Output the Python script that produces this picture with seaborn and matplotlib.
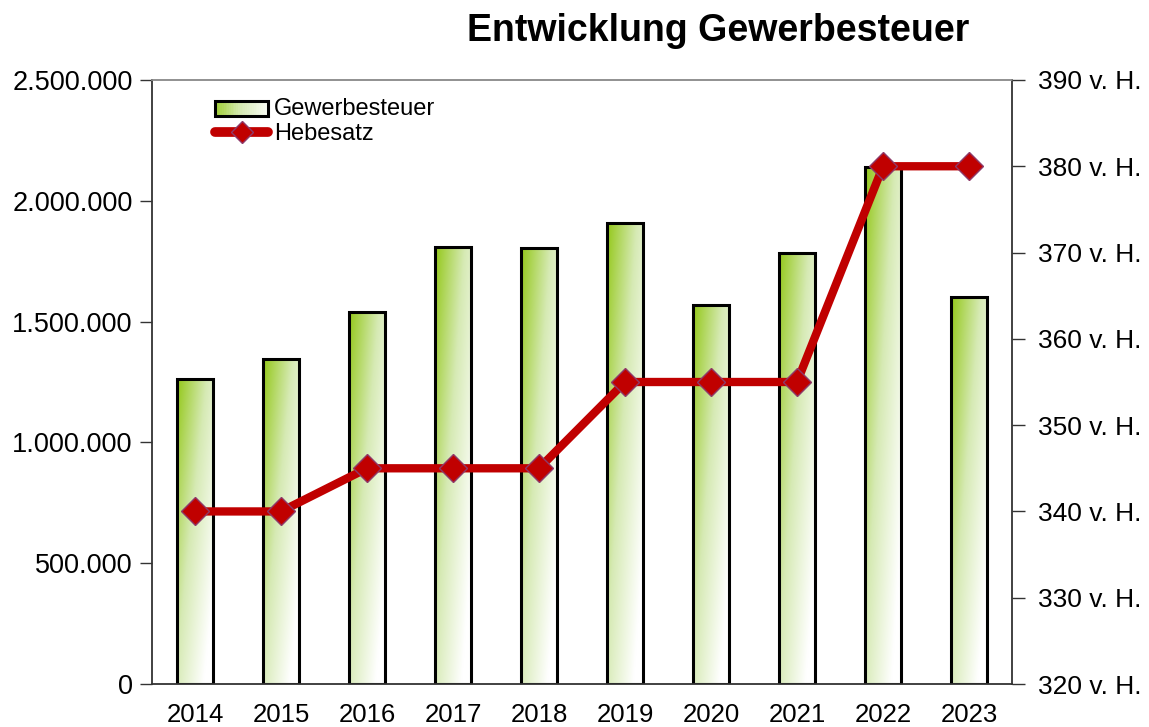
import numpy as np
import pandas as pd
import seaborn as sns
import matplotlib.pyplot as plt
from matplotlib.colors import LinearSegmentedColormap
from matplotlib.legend_handler import HandlerBase
from matplotlib.patches import Rectangle
from matplotlib.lines import Line2D
from matplotlib.ticker import FuncFormatter, FixedLocator

years = ["2014", "2015", "2016", "2017", "2018", "2019", "2020", "2021", "2022", "2023"]
gewerbesteuer = [1262000, 1345000, 1540000, 1809000, 1805000, 1908000, 1569000, 1784000, 2140000, 1602000]
hebesatz = [340, 340, 345, 345, 345, 355, 355, 355, 380, 380]

df = pd.DataFrame({"Jahr": years, "Gewerbesteuer": gewerbesteuer, "Hebesatz": hebesatz})

sns.set_style("white")
plt.rcParams["font.family"] = ["Liberation Sans", "DejaVu Sans"]
plt.rcParams["text.color"] = "black"
plt.rcParams["xtick.labelcolor"] = "black"
plt.rcParams["ytick.labelcolor"] = "black"

green = LinearSegmentedColormap.from_list("g", ["#94c81a", "#d6eab4", "#ffffff"])

fig = plt.figure(figsize=(11.49, 7.27), dpi=100)
ax = fig.add_axes([0.1323, 0.0591, 0.7485, 0.8309])

sns.barplot(data=df, x="Jahr", y="Gewerbesteuer", ax=ax, width=0.41,
            color="white", edgecolor="black", linewidth=2.2, zorder=2)

# diagonal gradient inside each bar (top-left green -> bottom-right white)
u, v = np.meshgrid(np.linspace(0, 1, 60), np.linspace(0, 1, 200))
grad = 0.6 * u + 0.55 * v
for bar in ax.patches:
    x0, y0 = bar.get_x(), bar.get_y()
    w, h = bar.get_width(), bar.get_height()
    im = ax.imshow(grad, cmap=green, vmin=0, vmax=1, aspect="auto",
                   extent=[x0, x0 + w, y0, y0 + h], origin="upper", zorder=1.5)
    im.set_clip_path(bar)
    bar.set_facecolor("none")

ax.set_xlim(-0.5, 9.5)
ax.set_ylim(0, 2500000)
ax.set_yticks(np.arange(0, 2500001, 500000))
ax.yaxis.set_major_formatter(FuncFormatter(lambda v, p: f"{int(v):,}".replace(",", ".")))
ax.set_xlabel("")
ax.set_ylabel("")
ax.xaxis.set_minor_locator(FixedLocator(np.arange(-0.5, 10, 1)))
ax.tick_params(axis="x", which="major", length=0, labelsize=18.5, pad=14)
ax.tick_params(axis="x", which="minor", length=9, width=1, color="#333333", direction="out")
ax.tick_params(axis="y", length=9, width=1, color="#333333", direction="out", labelsize=19.5, pad=5)
ax.spines["left"].set_color("#333333")
ax.spines["bottom"].set_color("#333333")
ax.spines["top"].set_color("#888888")
ax.spines["right"].set_color("#333333")
for s in ax.spines.values():
    s.set_linewidth(1.3)

ax2 = ax.twinx()
sns.lineplot(data=df, x="Jahr", y="Hebesatz", ax=ax2, color="#c00000", linewidth=6,
             marker="D", markersize=14, markerfacecolor="#c00000",
             markeredgecolor="#8e3a6a", markeredgewidth=1, zorder=5)
ax2.set_ylim(320, 390)
ax2.set_yticks(np.arange(320, 391, 10))
ax2.yaxis.set_major_formatter(FuncFormatter(lambda v, p: f"{int(v)} v. H."))
ax2.set_ylabel("")
ax2.set_xlabel("")
ax2.tick_params(axis="y", length=9, width=1, color="#333333", direction="out", labelsize=19, pad=10)
for s in ax2.spines.values():
    s.set_visible(False)


class GradientHandler(HandlerBase):
    def create_artists(self, legend, orig_handle, xdescent, ydescent, width, height, fontsize, trans):
        artists = []
        n = 30
        for i in range(n):
            c = green(0.1 + 0.85 * i / n)
            r = Rectangle((xdescent + width * i / n, ydescent), width / n + 0.3, height,
                          facecolor=c, edgecolor="none", transform=trans)
            artists.append(r)
        artists.append(Rectangle((xdescent, ydescent), width, height, facecolor="none",
                                 edgecolor="black", linewidth=2.2, transform=trans))
        return artists


bar_handle = Rectangle((0, 0), 1, 1)
line_handle = Line2D([0], [0], color="#c00000", linewidth=7, marker="D", markersize=11,
                     markerfacecolor="#c00000", markeredgecolor="#8e3a6a", solid_capstyle="round")
leg = ax2.legend([bar_handle, line_handle], ["Gewerbesteuer", "Hebesatz"],
                 handler_map={Rectangle: GradientHandler()},
                 loc="upper left", bbox_to_anchor=(0.054, 0.998), frameon=False,
                 fontsize=17, handlelength=2.25, handletextpad=0.25, labelspacing=0.15,
                 handleheight=0.6, borderpad=0.2)

fig.text(0.625, 0.958, "Entwicklung Gewerbesteuer", ha="center", va="center",
         fontsize=27, fontweight="bold")

fig.savefig("out.png", dpi=100)
